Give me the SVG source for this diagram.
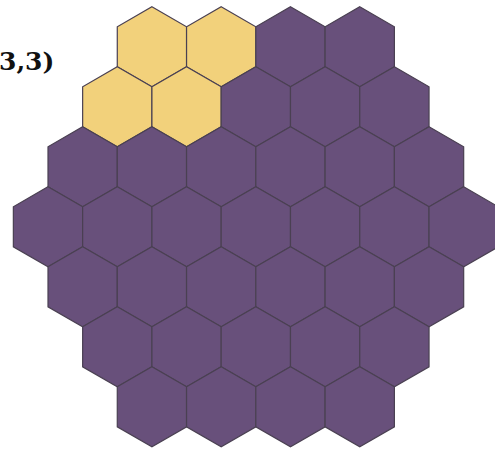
<svg xmlns="http://www.w3.org/2000/svg" xmlns:xlink="http://www.w3.org/1999/xlink" width="495" height="453" viewBox="0 0 495 453">
<style>
.h{stroke:#4a4052;stroke-width:1.2;stroke-linejoin:miter}
.p{fill:#68507b}
.y{fill:#f2d17b}
.lbl{font-family:"DejaVu Serif","Liberation Serif",serif;font-size:25px;font-weight:bold;fill:#111111}
</style>
<defs>
<polygon id="hex" points="0,-40 34.64,-20 34.64,20 0,40 -34.64,20 -34.64,-20"/>
</defs>
<rect width="495" height="453" fill="#ffffff"/>
<text class="lbl" x="-1" y="70">3,3)</text>
<g id="cells">
<g id="r0c0"><use href="#hex" class="h y" x="151.92" y="46.8"/></g>
<g id="r0c1"><use href="#hex" class="h y" x="221.2" y="46.8"/></g>
<g id="r0c2"><use href="#hex" class="h p" x="290.48" y="46.8"/></g>
<g id="r0c3"><use href="#hex" class="h p" x="359.76" y="46.8"/></g>
<g id="r1c0"><use href="#hex" class="h y" x="117.28" y="106.8"/></g>
<g id="r1c1"><use href="#hex" class="h y" x="186.56" y="106.8"/></g>
<g id="r1c2"><use href="#hex" class="h p" x="255.84" y="106.8"/></g>
<g id="r1c3"><use href="#hex" class="h p" x="325.12" y="106.8"/></g>
<g id="r1c4"><use href="#hex" class="h p" x="394.4" y="106.8"/></g>
<g id="r2c0"><use href="#hex" class="h p" x="82.64" y="166.8"/></g>
<g id="r2c1"><use href="#hex" class="h p" x="151.92" y="166.8"/></g>
<g id="r2c2"><use href="#hex" class="h p" x="221.2" y="166.8"/></g>
<g id="r2c3"><use href="#hex" class="h p" x="290.48" y="166.8"/></g>
<g id="r2c4"><use href="#hex" class="h p" x="359.76" y="166.8"/></g>
<g id="r2c5"><use href="#hex" class="h p" x="429.04" y="166.8"/></g>
<g id="r3c0"><use href="#hex" class="h p" x="48" y="226.8"/></g>
<g id="r3c1"><use href="#hex" class="h p" x="117.28" y="226.8"/></g>
<g id="r3c2"><use href="#hex" class="h p" x="186.56" y="226.8"/></g>
<g id="r3c3"><use href="#hex" class="h p" x="255.84" y="226.8"/></g>
<g id="r3c4"><use href="#hex" class="h p" x="325.12" y="226.8"/></g>
<g id="r3c5"><use href="#hex" class="h p" x="394.4" y="226.8"/></g>
<g id="r3c6"><use href="#hex" class="h p" x="463.68" y="226.8"/></g>
<g id="r4c0"><use href="#hex" class="h p" x="82.64" y="286.8"/></g>
<g id="r4c1"><use href="#hex" class="h p" x="151.92" y="286.8"/></g>
<g id="r4c2"><use href="#hex" class="h p" x="221.2" y="286.8"/></g>
<g id="r4c3"><use href="#hex" class="h p" x="290.48" y="286.8"/></g>
<g id="r4c4"><use href="#hex" class="h p" x="359.76" y="286.8"/></g>
<g id="r4c5"><use href="#hex" class="h p" x="429.04" y="286.8"/></g>
<g id="r5c0"><use href="#hex" class="h p" x="117.28" y="346.8"/></g>
<g id="r5c1"><use href="#hex" class="h p" x="186.56" y="346.8"/></g>
<g id="r5c2"><use href="#hex" class="h p" x="255.84" y="346.8"/></g>
<g id="r5c3"><use href="#hex" class="h p" x="325.12" y="346.8"/></g>
<g id="r5c4"><use href="#hex" class="h p" x="394.4" y="346.8"/></g>
<g id="r6c0"><use href="#hex" class="h p" x="151.92" y="406.8"/></g>
<g id="r6c1"><use href="#hex" class="h p" x="221.2" y="406.8"/></g>
<g id="r6c2"><use href="#hex" class="h p" x="290.48" y="406.8"/></g>
<g id="r6c3"><use href="#hex" class="h p" x="359.76" y="406.8"/></g>
</g>
<g id="connectors"/>
</svg>
